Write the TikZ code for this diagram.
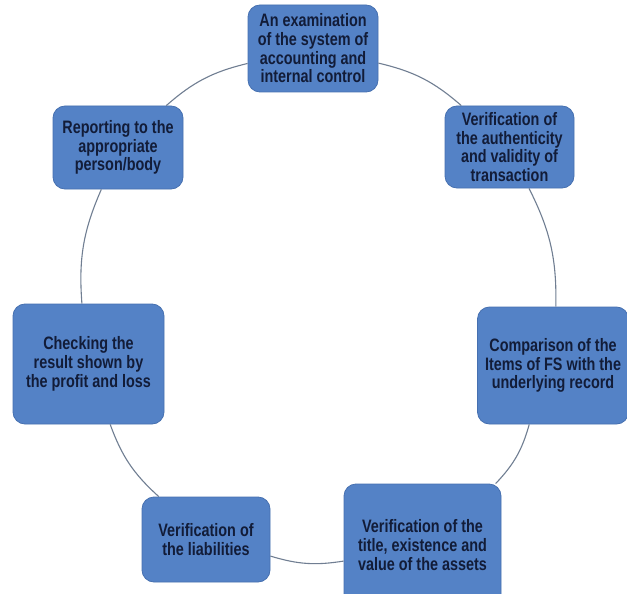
\documentclass[tikz,border=0pt]{standalone}
\usepackage{fontspec}
\setmainfont{Liberation Sans}[FakeStretch=0.8]
\definecolor{boxfill}{RGB}{84,130,198}
\definecolor{boxline}{RGB}{70,112,176}
\definecolor{boxtext}{RGB}{18,28,56}
\definecolor{ringcol}{RGB}{112,126,146}
\begin{document}
\begin{tikzpicture}[x=1pt,y=1pt,
  box/.style={draw=boxline, line width=0.8pt, fill=boxfill, rounded corners=12pt,
    text=boxtext, font=\bfseries\fontsize{18}{18.7}\selectfont, align=center, inner sep=0pt},
  ring/.style={draw=ringcol, line width=1.1pt}]
\useasboundingbox[fill=white] (0,0) rectangle (627,-594);
\node[box, minimum width=130pt, minimum height=87pt] (n1) at (313,-48.5)
  {An examination\\of the system of\\accounting and\\internal control};
\node[box, minimum width=129pt, minimum height=82pt] (n2) at (509.5,-147)
  {Verification of\\the authenticity\\and validity of\\transaction};
\node[box, minimum width=151pt, minimum height=117pt] (n3) at (553,-365.5)
  {Comparison of the\\Items of FS with the\\underlying record};
\node[box, minimum width=157pt, minimum height=122pt] (n4) at (422.5,-545)
  {Verification of the\\title, existence and\\value of the assets};
\node[box, minimum width=128pt, minimum height=85pt] (n5) at (206,-539.5)
  {Verification of\\the liabilities};
\node[box, minimum width=151pt, minimum height=120pt] (n6) at (88.5,-364)
  {Checking the\\result shown by\\the profit and loss};
\node[box, minimum width=130pt, minimum height=83pt] (n7) at (118,-147.5)
  {Reporting to the\\appropriate\\person/body};
\draw[ring] (n1) to[bend left=14] (n2);
\draw[ring] (n2) to[bend left=14] (n3);
\draw[ring] (n3) to[bend left=14] (n4);
\draw[ring] (n4) to[bend left=13] (n5);
\draw[ring] (n5) to[bend left=14] (n6);
\draw[ring] (n6) to[bend left=14] (n7);
\draw[ring] (n7) to[bend left=14] (n1);
\end{tikzpicture}
\end{document}
